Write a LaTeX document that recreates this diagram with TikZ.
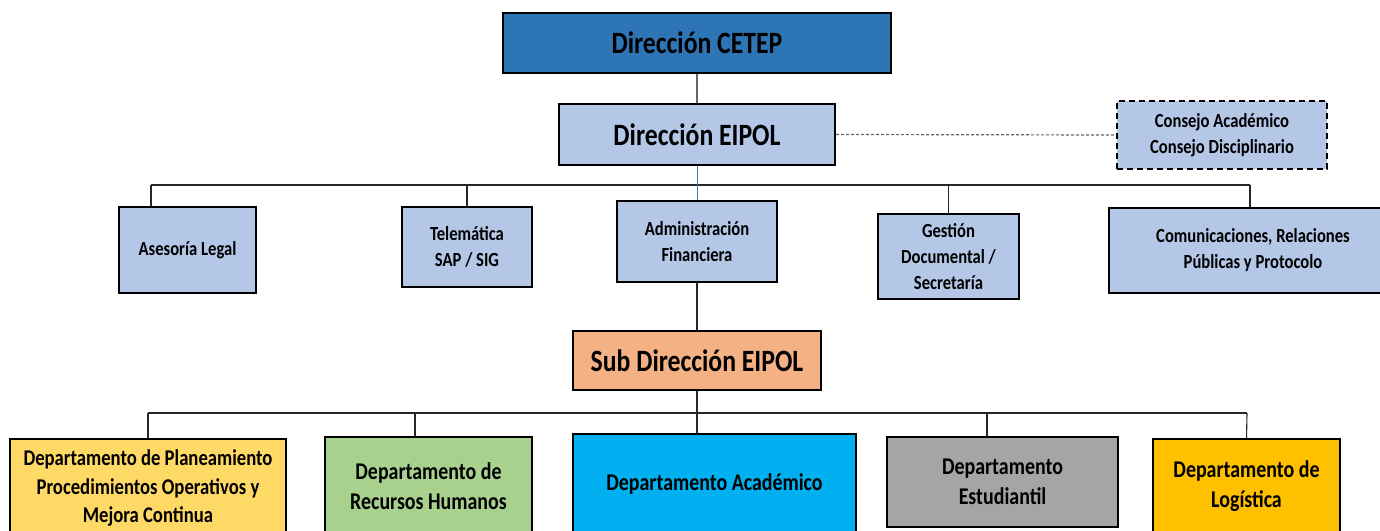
\documentclass[tikz,border=0pt]{standalone}
\usepackage{fontspec}
\setmainfont{Carlito}[FakeStretch=0.83]
\usepackage{xcolor}
\usepackage{tikz}

\definecolor{cetepblue}{HTML}{2E75B6}
\definecolor{lightblue}{HTML}{B4C7E7}
\definecolor{subsalmon}{HTML}{F4B183}
\definecolor{planyellow}{HTML}{FFD966}
\definecolor{rrhhgreen}{HTML}{A9D18E}
\definecolor{acadcyan}{HTML}{00B0F0}
\definecolor{estudgray}{HTML}{A5A5A5}
\definecolor{logisorange}{HTML}{FFC000}
\definecolor{linkblue}{HTML}{4472C4}

\tikzset{
  unit/.style={draw=black, line width=2pt, align=center, inner sep=0pt},
  bigtxt/.style={font=\bfseries\fontsize{31}{37}\selectfont},
  smalltxt/.style={font=\bfseries\fontsize{20}{26}\selectfont},
  depttxt/.style={font=\bfseries\fontsize{24}{30}\selectfont},
  link/.style={draw=black!85, line width=1.1pt},
}

\begin{document}
\begin{tikzpicture}[x=1pt, y=-1pt]
                \useasboundingbox (0,0) rectangle (1380,530);
                \fill[white] (0,0) rectangle (1380,530);

                \node[unit, bigtxt, fill=cetepblue, minimum width=388, minimum height=60] (cetep) at (697,43) {Dirección CETEP};
                \node[unit, bigtxt, fill=lightblue, minimum width=276, minimum height=61] (eipol) at (697,134.5) {Dirección EIPOL};
                \node[unit, smalltxt, fill=lightblue, dash pattern=on 6pt off 4pt, minimum width=210, minimum height=68] (consejo) at (1222,135) {Consejo Académico\\Consejo Disciplinario};

                \node[unit, smalltxt, fill=lightblue, minimum width=137, minimum height=86] (asesoria) at (187.5,250) {Asesoría Legal};
                \node[unit, smalltxt, fill=lightblue, minimum width=130, minimum height=80] (telematica) at (467,247) {Telemática\\SAP / SIG};
                \node[unit, smalltxt, fill=lightblue, minimum width=160, minimum height=81] (admin) at (697,241.5) {Administración\\Financiera};
                \node[unit, smalltxt, fill=lightblue, minimum width=141, minimum height=85] (gestion) at (948.5,256.5) {Gestión\\Documental /\\Secretaría};
                \node[unit, smalltxt, fill=lightblue, minimum width=288, minimum height=85] (comunic) at (1253,250.5) {Comunicaciones, Relaciones\\Públicas y Protocolo};

                \node[unit, bigtxt, fill=subsalmon, minimum width=248, minimum height=59] (sub) at (697,360.5) {Sub Dirección EIPOL};

                \node[unit, depttxt, font=\bfseries\fontsize{22.5}{28.5}\selectfont, fill=planyellow, minimum width=276, minimum height=98] (plane) at (148,488) {Departamento de Planeamiento\\Procedimientos Operativos y\\Mejora Continua};
                \node[unit, depttxt, fill=rrhhgreen, minimum width=207, minimum height=98] (rrhh) at (428.5,486) {Departamento de\\Recursos Humanos};
                \node[unit, depttxt, fill=acadcyan, minimum width=283, minimum height=100] (acad) at (714.5,484) {Departamento Académico};
                \node[unit, depttxt, fill=estudgray, minimum width=231, minimum height=90] (estud) at (1002.5,482) {Departamento\\Estudiantil};
                \node[unit, depttxt, fill=logisorange, minimum width=187, minimum height=94] (logis) at (1246.5,486) {Departamento de\\Logística};

                % ramas superiores
                \coordinate (busa) at (151,185);
                \coordinate (busb) at (1250,185);
                \draw[link] (busa) -- (busb);
                \draw[link] (busa) -- (busa |- asesoria.north);
                \draw[link] (telematica.north) -- (telematica.north |- busa);
                \draw[link] (gestion.north) -- (gestion.north |- busa);
                \draw[link] (busb) -- (busb |- comunic.north);

                \draw[link, draw=black!60] (cetep.south) -- (eipol.north);
                \draw[link, draw=linkblue, line width=0.8pt] (eipol.south) -- (admin.north);
                \draw[link] (admin.south) -- (sub.north);
                \draw[draw=black!60, line width=1.2pt, dash pattern=on 3pt off 2pt] (eipol.east) -- (consejo.west);

                % ramas inferiores
                \coordinate (busc) at (148,413);
                \coordinate (busd) at (1247,413);
                \coordinate (droprrhh) at (415,413);
                \coordinate (dropestud) at (987,413);
                \draw[link] (busc) -- (busd);
                \draw[link] (busc) -- (plane.north);
                \draw[link] (droprrhh) -- (droprrhh |- rrhh.north);
                \draw[link] (sub.south) -- (sub.south |- acad.north);
                \draw[link] (dropestud) -- (dropestud |- estud.north);
                \draw[link] (busd) -- (logis.north);
            \end{tikzpicture}
\end{document}
